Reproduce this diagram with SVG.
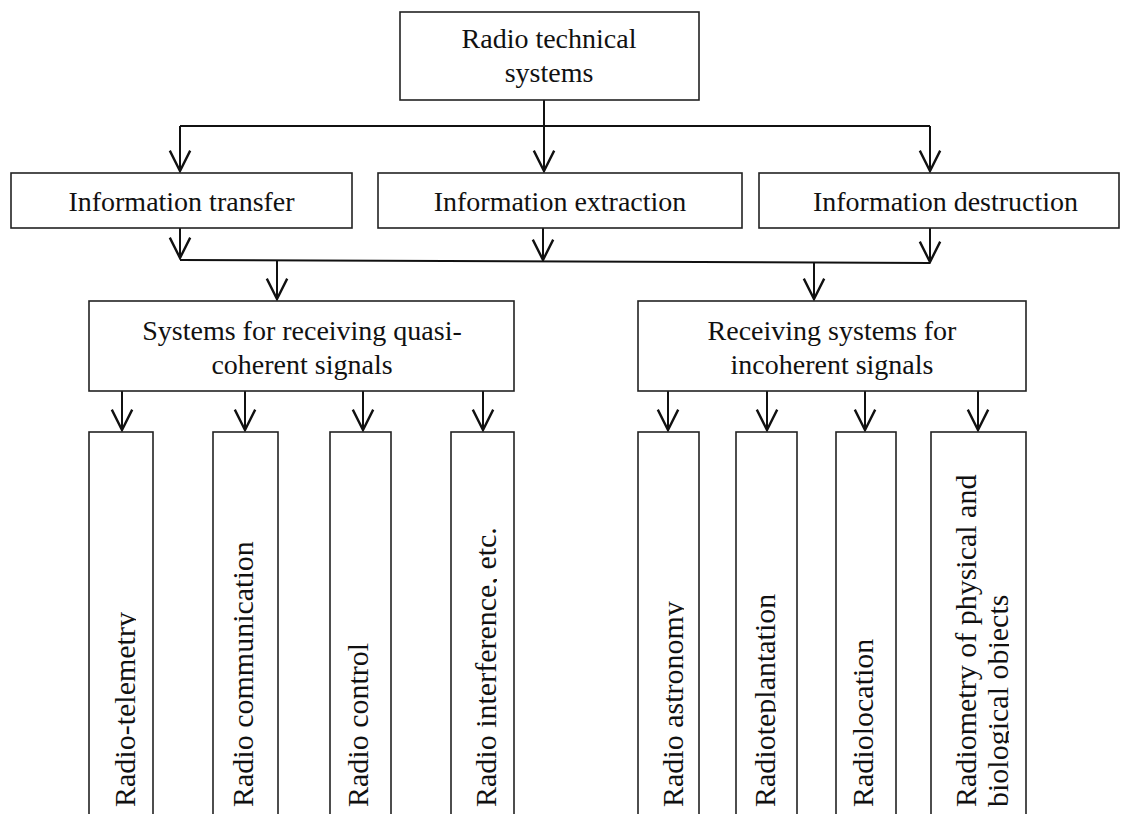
<svg xmlns="http://www.w3.org/2000/svg" width="1126" height="814" viewBox="0 0 1126 814">
<style>
.box{fill:#fff;stroke:#222;stroke-width:1.6}
.ln{fill:none;stroke:#111;stroke-width:2}
.t{font-family:"Liberation Serif","Times New Roman",serif;font-size:28px;fill:#111;text-anchor:middle}
.v{font-family:"Liberation Serif","Times New Roman",serif;font-size:30px;fill:#111}
</style>
<defs>
<marker id="ah" markerUnits="userSpaceOnUse" markerWidth="24" markerHeight="24" viewBox="-18 -10 20 20" refX="0" refY="0" orient="auto">
<path d="M-17,-8.5 L0,0 L-17,8.5" fill="none" stroke="#111" stroke-width="2"/>
</marker>
<clipPath id="c1"><rect x="80" y="430" width="56" height="390"/></clipPath>
<clipPath id="c2"><rect x="200" y="430" width="54" height="390"/></clipPath>
<clipPath id="c3"><rect x="320" y="430" width="49" height="390"/></clipPath>
<clipPath id="c4"><rect x="440" y="430" width="57" height="390"/></clipPath>
<clipPath id="c5"><rect x="630" y="430" width="54" height="390"/></clipPath>
<clipPath id="c6"><rect x="730" y="430" width="46" height="390"/></clipPath>
<clipPath id="c7"><rect x="830" y="430" width="44" height="390"/></clipPath>
<clipPath id="c8"><rect x="920" y="430" width="89" height="390"/></clipPath>
</defs>

<g id="connectors">
<line class="ln" x1="544" y1="100" x2="544" y2="171" marker-end="url(#ah)"/>
<line class="ln" x1="180" y1="126" x2="930" y2="126"/>
<line class="ln" x1="180" y1="126" x2="180" y2="171" marker-end="url(#ah)"/>
<line class="ln" x1="930" y1="126" x2="930" y2="171" marker-end="url(#ah)"/>
<line class="ln" x1="180" y1="228" x2="180" y2="258" marker-end="url(#ah)"/>
<line class="ln" x1="543" y1="228" x2="543" y2="260" marker-end="url(#ah)"/>
<line class="ln" x1="930" y1="228" x2="930" y2="262" marker-end="url(#ah)"/>
<line class="ln" x1="180" y1="260" x2="930" y2="263"/>
<line class="ln" x1="277" y1="260" x2="277" y2="299" marker-end="url(#ah)"/>
<line class="ln" x1="814" y1="262" x2="814" y2="299" marker-end="url(#ah)"/>
<line class="ln" x1="122" y1="391" x2="122" y2="430" marker-end="url(#ah)"/>
<line class="ln" x1="245" y1="391" x2="245" y2="430" marker-end="url(#ah)"/>
<line class="ln" x1="363" y1="391" x2="363" y2="430" marker-end="url(#ah)"/>
<line class="ln" x1="483" y1="391" x2="483" y2="430" marker-end="url(#ah)"/>
<line class="ln" x1="668" y1="391" x2="668" y2="430" marker-end="url(#ah)"/>
<line class="ln" x1="767" y1="391" x2="767" y2="430" marker-end="url(#ah)"/>
<line class="ln" x1="865" y1="391" x2="865" y2="430" marker-end="url(#ah)"/>
<line class="ln" x1="978" y1="391" x2="978" y2="430" marker-end="url(#ah)"/>
</g>

<g id="root">
<rect class="box" x="400" y="12" width="299" height="88"/>
<text class="t" x="549" y="48">Radio technical</text>
<text class="t" x="549" y="82">systems</text>
</g>

<g id="transfer">
<rect class="box" x="11" y="173" width="341" height="55"/>
<text class="t" x="181.5" y="211">Information transfer</text>
</g>
<g id="extraction">
<rect class="box" x="378" y="173" width="364" height="55"/>
<text class="t" x="560" y="211">Information extraction</text>
</g>
<g id="destruction">
<rect class="box" x="759" y="173" width="360" height="55"/>
<text class="t" x="945.5" y="211">Information destruction</text>
</g>

<g id="quasi">
<rect class="box" x="89" y="301" width="425" height="90"/>
<text class="t" x="302" y="340">Systems for receiving quasi-</text>
<text class="t" x="302" y="374">coherent signals</text>
</g>
<g id="incoherent">
<rect class="box" x="638" y="301" width="388" height="90"/>
<text class="t" x="832" y="340">Receiving systems for</text>
<text class="t" x="832" y="374">incoherent signals</text>
</g>

<g id="telemetry">
<rect class="box" x="89" y="432" width="64" height="400"/>
<g clip-path="url(#c1)"><text class="v" transform="translate(135,807) rotate(-90)">Radio-telemetry</text></g>
</g>
<g id="communication">
<rect class="box" x="213" y="432" width="65" height="400"/>
<g clip-path="url(#c2)"><text class="v" transform="translate(253,807) rotate(-90)">Radio communication</text></g>
</g>
<g id="control">
<rect class="box" x="330" y="432" width="61" height="400"/>
<g clip-path="url(#c3)"><text class="v" transform="translate(368,807) rotate(-90)">Radio control</text></g>
</g>
<g id="interference">
<rect class="box" x="451" y="432" width="63" height="400"/>
<g clip-path="url(#c4)"><text class="v" transform="translate(496,807) rotate(-90)">Radio interference, etc.</text></g>
</g>
<g id="astronomy">
<rect class="box" x="638" y="432" width="61" height="400"/>
<g clip-path="url(#c5)"><text class="v" transform="translate(683,807) rotate(-90)">Radio astronomy</text></g>
</g>
<g id="teplantation">
<rect class="box" x="736" y="432" width="61" height="400"/>
<g clip-path="url(#c6)"><text class="v" transform="translate(775,807) rotate(-90)">Radioteplantation</text></g>
</g>
<g id="location">
<rect class="box" x="836" y="432" width="60" height="400"/>
<g clip-path="url(#c7)"><text class="v" transform="translate(873,807) rotate(-90)">Radiolocation</text></g>
</g>
<g id="radiometry">
<rect class="box" x="931" y="432" width="95" height="400"/>
<g clip-path="url(#c8)"><text class="v" transform="translate(976,807) rotate(-90)"><tspan x="0" y="0">Radiometry of physical and</tspan><tspan x="0" y="32">biological objects</tspan></text></g>
</g>
</svg>
